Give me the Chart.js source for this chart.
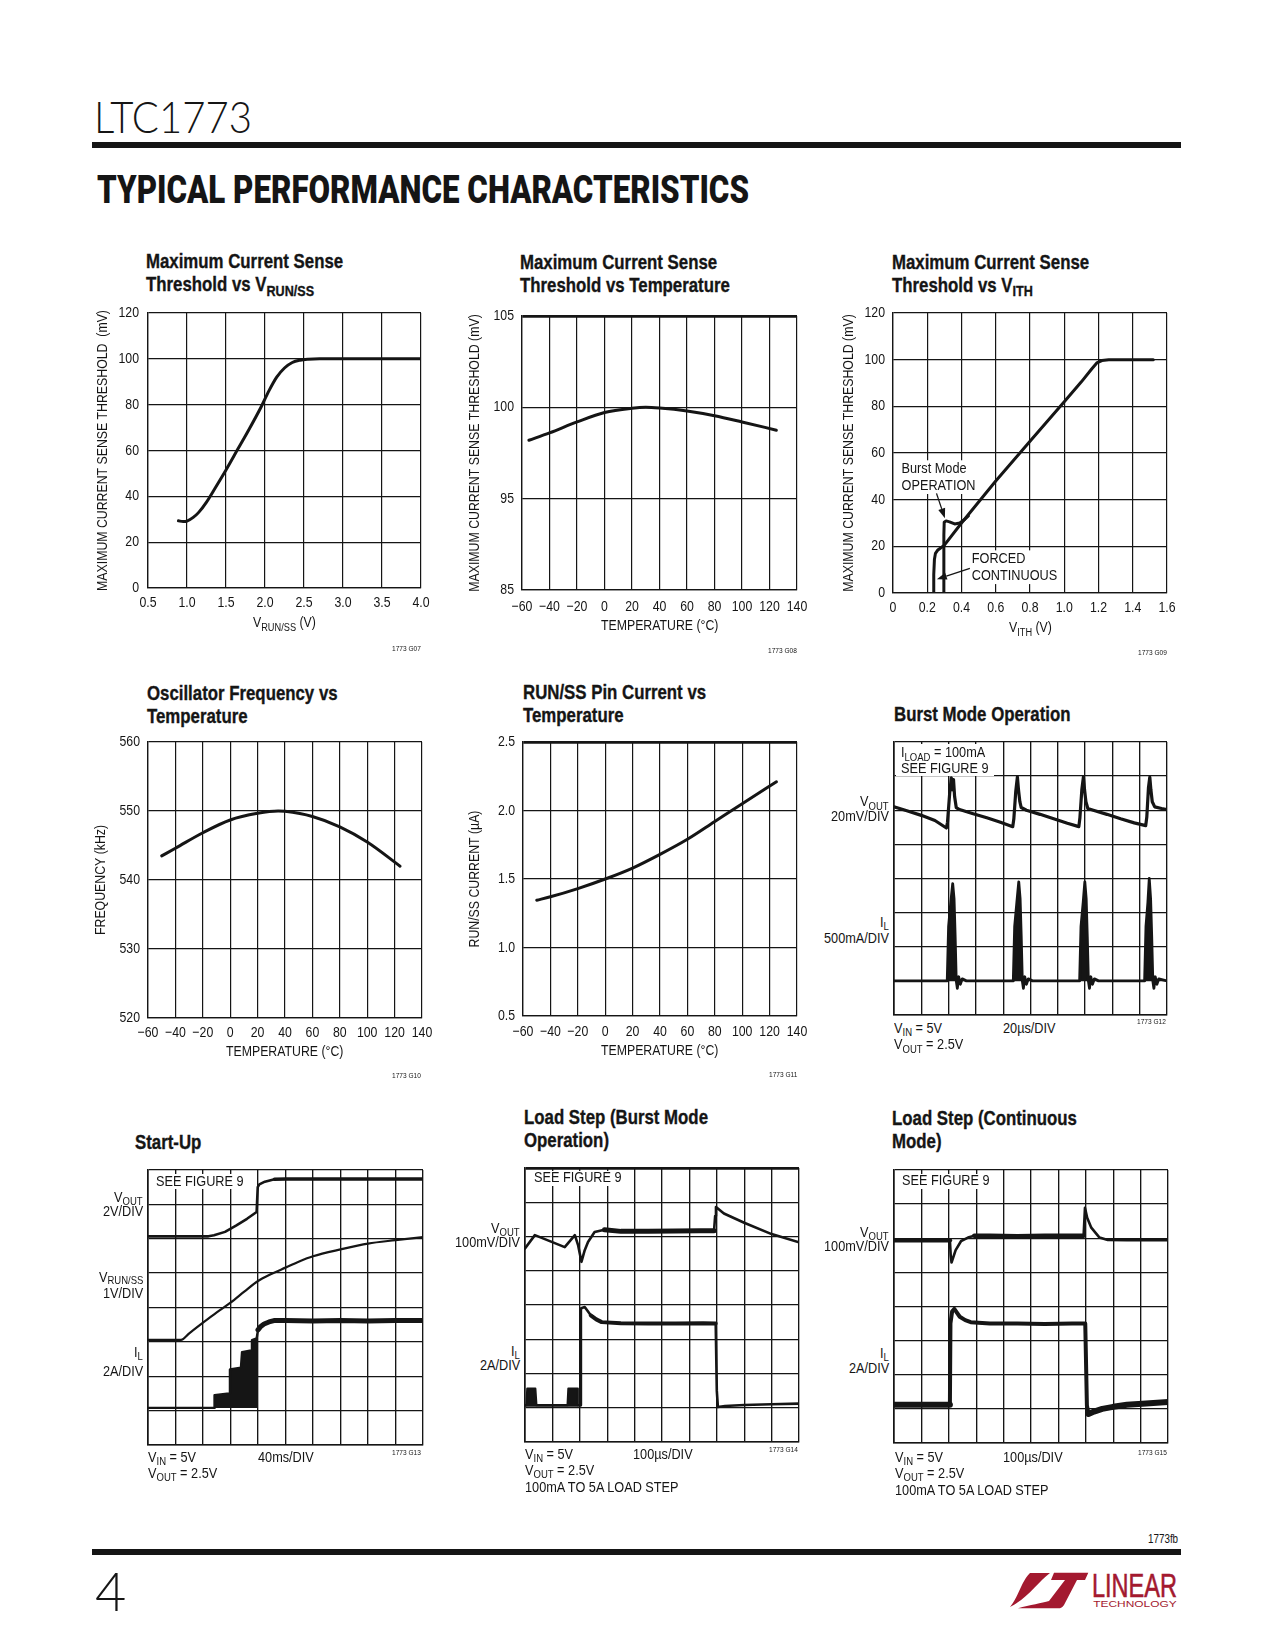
<!DOCTYPE html>
<html>
<head>
<meta charset="utf-8">
<title>LTC1773 Typical Performance Characteristics</title>
<script src="https://cdn.jsdelivr.net/npm/chart.js@4.4.1/dist/chart.umd.min.js"></script>
<style>
html,body{margin:0;padding:0;background:#fff;}
body{position:relative;width:1275px;height:1650px;overflow:hidden;color:#151515;}
.t{position:absolute;left:0;top:0;white-space:nowrap;line-height:1;}
.t sub{font-size:0.75em;vertical-align:baseline;position:relative;top:0.3em;}
.t sub.hi{top:0.18em;}
.ttl{-webkit-text-stroke:0.35px #151515;}
canvas{position:absolute;}
.blk{position:absolute;}
</style>
</head>
<body>
<script>
// ================= DATA =================
// Chart 1: Maximum current sense threshold vs V_RUN/SS
const c1X = [0.89, 0.95, 1.0, 1.08, 1.15, 1.25, 1.35, 1.5, 1.65, 1.8, 1.95, 2.05, 2.15, 2.25, 2.35, 2.45, 2.55, 2.7, 3.0, 3.5, 4.0];
const c1Y = [29.3, 29.0, 29.2, 30.8, 33.0, 37.5, 43.0, 51.5, 60.5, 69.5, 79.0, 86.0, 92.0, 96.0, 98.4, 99.4, 99.8, 100, 100, 100, 100];
const c1XTicks = [0.5, 1.0, 1.5, 2.0, 2.5, 3.0, 3.5, 4.0];
const c1XLabels = ['0.5', '1.0', '1.5', '2.0', '2.5', '3.0', '3.5', '4.0'];
const c1YTicks = [0, 20, 40, 60, 80, 100, 120];
const c1YLabels = ['0', '20', '40', '60', '80', '100', '120'];

// Chart 2: Maximum current sense threshold vs temperature (axis broken 85..95)
const c2X = [-55, -40, -20, 0, 20, 30, 40, 60, 80, 100, 125];
const c2Y = [98.2, 98.6, 99.2, 99.72, 99.95, 100, 99.96, 99.8, 99.54, 99.2, 98.75];
const tempTicks = [-60, -40, -20, 0, 20, 40, 60, 80, 100, 120, 140];
const tempLabels = ['\u221260', '\u221240', '\u221220', '0', '20', '40', '60', '80', '100', '120', '140'];
const c2YTicks = [90, 95, 100, 105];
const c2YLabels = ['85', '95', '100', '105'];

// Chart 3: Maximum current sense threshold vs V_ITH
const c3ForcedX = [0.234, 0.238, 0.242, 0.248, 0.26, 0.28, 0.3, 0.4, 0.6, 0.8, 1.0, 1.1, 1.16, 1.19, 1.22, 1.26, 1.4, 1.52];
const c3ForcedY = [0, 8, 14.5, 17, 18.3, 19.4, 20.5, 30, 48, 65, 82, 90.5, 96, 98.6, 99.6, 100, 100, 100];
const c3BurstX = [0.297, 0.297, 0.299, 0.31, 0.33, 0.36, 0.39, 0.42, 0.44];
const c3BurstY = [0, 25, 30.3, 30.9, 30.5, 29.6, 30.0, 31.6, 33.0];
const c3XTicks = [0, 0.2, 0.4, 0.6, 0.8, 1.0, 1.2, 1.4, 1.6];
const c3XLabels = ['0', '0.2', '0.4', '0.6', '0.8', '1.0', '1.2', '1.4', '1.6'];
const c3YTicks = [0, 20, 40, 60, 80, 100, 120];
const c3YLabels = ['0', '20', '40', '60', '80', '100', '120'];

// Chart 4: Oscillator frequency vs temperature
const c4X = [-50, -40, -20, 0, 20, 35, 40, 60, 80, 100, 124];
const c4Y = [543.5, 544.6, 546.85, 548.7, 549.66, 550, 549.95, 549.2, 547.7, 545.5, 542.0];
const c4YTicks = [520, 530, 540, 550, 560];
const c4YLabels = ['520', '530', '540', '550', '560'];

// Chart 5: RUN/SS pin current vs temperature
const c5X = [-50, -40, -20, 0, 20, 40, 60, 80, 100, 125];
const c5Y = [1.345, 1.37, 1.43, 1.5, 1.58, 1.68, 1.79, 1.92, 2.05, 2.21];
const c5YTicks = [0.5, 1.0, 1.5, 2.0, 2.5];
const c5YLabels = ['0.5', '1.0', '1.5', '2.0', '2.5'];

// Scope grids (divisions)
const divX = [0, 1, 2, 3, 4, 5, 6, 7, 8, 9, 10];
const divY = [0, 1, 2, 3, 4, 5, 6, 7, 8];

// Chart 6: Burst Mode operation (div units)
const c6VoutX = [0, 0.5, 1.0, 1.5, 1.92, 1.96, 2.04, 2.1, 2.14, 2.18, 2.22, 2.28, 2.4, 2.9, 3.4, 3.9, 4.35, 4.39, 4.46, 4.52, 4.56, 4.61, 4.66, 4.85, 5.35, 5.85, 6.35, 6.77, 6.81, 6.88, 6.94, 6.98, 7.03, 7.1, 7.3, 7.8, 8.3, 8.8, 9.22, 9.26, 9.32, 9.37, 9.41, 9.46, 9.55, 9.8, 10];
const c6VoutY = [6.1, 5.98, 5.85, 5.7, 5.48, 5.65, 6.5, 6.95, 6.6, 6.9, 6.4, 6.08, 6.02, 5.9, 5.78, 5.65, 5.52, 5.75, 6.55, 6.98, 6.6, 6.25, 6.08, 6.0, 5.88, 5.75, 5.62, 5.52, 5.78, 6.6, 6.98, 6.6, 6.25, 6.05, 6.0, 5.88, 5.75, 5.63, 5.55, 5.8, 6.65, 6.97, 6.6, 6.25, 6.1, 6.05, 6.02];
const c6IlX = [0, 1.95, 2.0, 2.08, 2.15, 2.2, 2.24, 2.28, 2.32, 2.37, 2.43, 2.5, 2.65, 4.37, 4.42, 4.5, 4.57, 4.62, 4.66, 4.7, 4.74, 4.79, 4.85, 4.92, 5.07, 6.8, 6.85, 6.93, 6.99, 7.04, 7.08, 7.12, 7.16, 7.21, 7.27, 7.34, 7.49, 9.18, 9.23, 9.3, 9.35, 9.4, 9.44, 9.48, 9.52, 9.57, 9.63, 9.7, 10];
const c6IlY = [1.0, 1.0, 2.6, 3.3, 3.85, 3.4, 2.3, 1.0, 0.78, 1.12, 0.9, 1.06, 1.0, 1.0, 2.6, 3.3, 3.9, 3.4, 2.3, 1.0, 0.78, 1.12, 0.9, 1.06, 1.0, 1.0, 2.6, 3.3, 3.9, 3.4, 2.3, 1.0, 0.78, 1.12, 0.9, 1.06, 1.0, 1.0, 2.6, 3.3, 4.0, 3.4, 2.3, 1.0, 0.78, 1.12, 0.9, 1.06, 1.0];

// Chart 7: Start-up (div units)
const c7VoutX = [0, 2.2, 2.4, 2.8, 3.2, 3.6, 3.95, 3.99, 4.05, 4.25, 4.6, 5.0, 10];
const c7VoutY = [6.07, 6.07, 6.1, 6.2, 6.38, 6.58, 6.78, 7.5, 7.58, 7.66, 7.73, 7.74, 7.74];
const c7RunX = [0, 1.2, 1.5, 2.0, 2.5, 3.0, 3.5, 4.0, 4.5, 5.0, 5.5, 6.0, 7.0, 8.0, 9.0, 10];
const c7RunY = [3.06, 3.06, 3.25, 3.56, 3.86, 4.14, 4.46, 4.77, 4.98, 5.16, 5.34, 5.49, 5.69, 5.86, 5.96, 6.05];
const c7IlBandX = [0, 2.4, 2.42, 2.95, 2.98, 3.38, 3.42, 3.75, 3.78, 3.95, 4.0];
const c7IlBandY = [1.08, 1.08, 1.45, 1.5, 2.2, 2.25, 2.7, 2.75, 3.05, 3.1, 3.35];
const c7IlX = [4.0, 4.1, 4.22, 4.4, 4.58, 5, 6, 7, 8, 9, 10];
const c7IlY = [3.35, 3.45, 3.52, 3.58, 3.62, 3.62, 3.61, 3.62, 3.61, 3.62, 3.62];

// Chart 8: Load step, Burst Mode operation (div units)
const c8VoutX = [0, 0.36, 1.45, 1.82, 1.94, 2.06, 2.18, 2.3, 2.54, 2.9, 3.5, 4.5, 5.5, 6.4, 6.9, 6.94, 6.97, 7.26, 8.0, 9.0, 10];
const c8VoutY = [5.65, 6.04, 5.69, 6.04, 5.74, 5.26, 5.6, 5.84, 6.13, 6.2, 6.15, 6.15, 6.16, 6.17, 6.17, 6.6, 6.86, 6.67, 6.4, 6.07, 5.83];
const c8IlX = [0, 2.03, 2.04, 2.1, 2.18, 2.4, 2.6, 2.8, 3.5, 4.5, 5.5, 6.5, 6.96, 7.0, 7.04, 7.3, 8, 9, 10];
const c8IlY = [1.07, 1.07, 3.9, 3.92, 3.94, 3.7, 3.58, 3.5, 3.47, 3.46, 3.46, 3.47, 3.46, 1.5, 1.02, 1.05, 1.08, 1.1, 1.12];
const c8BurstX = [0.05, 0.08, 0.38, 0.42, 1.55, 1.58, 1.9, 1.93];
const c8BurstY = [1.07, 1.56, 1.56, 1.07, 1.07, 1.56, 1.56, 1.07];

// Chart 9: Load step, continuous mode (div units)
const c9VoutX = [0, 2.04, 2.07, 2.1, 2.25, 2.45, 2.7, 2.93, 3.5, 4.5, 5.5, 6.5, 6.92, 6.97, 7.05, 7.2, 7.5, 7.8, 8.5, 10];
const c9VoutY = [5.94, 5.94, 5.5, 5.29, 5.65, 5.92, 6.02, 6.07, 6.07, 6.06, 6.07, 6.07, 6.07, 6.89, 6.6, 6.31, 6.02, 5.95, 5.94, 5.94];
const c9IlX = [0, 2.04, 2.06, 2.12, 2.2, 2.4, 2.6, 2.8, 3.5, 4.5, 5.5, 6.5, 6.98, 7.04, 7.1, 7.3, 7.6, 8.0, 8.5, 9.2, 10];
const c9IlY = [1.12, 1.12, 3.5, 3.85, 3.93, 3.7, 3.6, 3.54, 3.5, 3.5, 3.49, 3.5, 3.5, 1.1, 0.85, 0.92, 1.0, 1.06, 1.12, 1.16, 1.2];

// Chart 3 annotations (data coordinates)
const c3Notes = [
  {lines: ['Burst Mode', 'OPERATION'], x: 0.05, y: 51.3},
  {lines: ['FORCED', 'CONTINUOUS'], x: 0.46, y: 12.7}
];
const c3Arrows = [
  {x1: 0.254, y1: 42.7, x2: 0.303, y2: 32.0},
  {x1: 0.449, y1: 10.6, x2: 0.256, y2: 5.9}
];

// ================= STYLE / HELPERS =================
const INK = '#151515';
const LOGO = '#A3192F';
const SANS = '"Liberation Sans",Arial,Helvetica,sans-serif';
const K = 0.82; // horizontal condensing (Helvetica Condensed look)
const TICK = 15, AXT = 15, LAB = 15.5;

// condensed text rendering on canvases
const _fillText = CanvasRenderingContext2D.prototype.fillText;
CanvasRenderingContext2D.prototype.fillText = function (text, x, y, maxWidth) {
  this.save();
  this.translate(x, y);
  this.scale(K, 1);
  if (maxWidth === undefined) _fillText.call(this, text, 0, 0);
  else _fillText.call(this, text, 0, 0, maxWidth / K);
  this.restore();
};

Chart.defaults.font.family = SANS;
Chart.defaults.font.size = TICK;
Chart.defaults.color = INK;

const pts = (xs, ys) => xs.map((x, i) => ({x, y: ys[i]}));
const seg = (ranges, thick, thin) => ({
  borderWidth: thin,
  segment: {borderWidth: ctx => ranges.some(([a, b]) => ctx.p0.parsed.x >= a && ctx.p0.parsed.x < b) ? thick : thin}
});

function axis(min, max, vals, labels, o = {}) {
  const gw = o.gridW ?? 1.2;
  return {
    type: 'linear', min, max,
    afterBuildTicks: s => { s.ticks = vals.map(v => ({value: v})); },
    ticks: {display: !!labels, callback: (v, i) => labels ? labels[i] : '', padding: o.pad ?? 6,
            autoSkip: false, maxRotation: 0, font: {size: TICK, family: SANS}, color: INK},
    grid: {color: INK, drawTicks: false, tickLength: 0,
           lineWidth: o.thickTop ? (c => c.index === vals.length - 1 ? 2.7 : gw) : gw},
    border: {color: INK, width: o.borderW ?? 1.3}
  };
}

function makeChart(box, xs, ys, datasets, plugins = []) {
  const yW = box.yW ?? 70, padT = box.padT ?? 14, padR = box.padR ?? 24, xH = box.xH ?? 30;
  const W = box.R - box.L + yW + padR, H = box.B - box.T + padT + xH;
  const cv = document.createElement('canvas');
  cv.width = W; cv.height = H;
  Object.assign(cv.style, {left: (box.L - yW) + 'px', top: (box.T - padT) + 'px', width: W + 'px', height: H + 'px'});
  document.body.appendChild(cv);
  xs.afterFit = s => { s.height = xH; s.paddingLeft = 0; s.paddingRight = 0; };
  ys.afterFit = s => { s.width = yW; s.paddingTop = 0; s.paddingBottom = 0; };
  if (box.yTitle) {
    ys.title = {display: true, text: box.yTitle, color: INK, font: {size: AXT, family: SANS},
                padding: {top: box.yTitleX - (box.L - yW) - 0.6 * AXT, bottom: 0}};
  }
  return new Chart(cv, {
    type: 'line', data: {datasets},
    options: {responsive: false, animation: false, events: [],
      layout: {autoPadding: false, padding: {top: padT, right: padR, bottom: 0, left: 0}},
      plugins: {legend: {display: false}, tooltip: {enabled: false}},
      scales: {x: xs, y: ys}},
    plugins
  });
}

const curve = (xs, ys, extra = {}) => Object.assign({data: pts(xs, ys), borderColor: INK, borderWidth: 3, pointRadius: 0,
  fill: false, cubicInterpolationMode: 'monotone', borderCapStyle: 'round', borderJoinStyle: 'round'}, extra);
const trace = (xs, ys, extra = {}) => Object.assign({data: pts(xs, ys), borderColor: INK, borderWidth: 2.6, pointRadius: 0,
  fill: false, tension: 0, borderJoinStyle: 'round', borderCapStyle: 'round'}, extra);

const BASE = {sans: 0.8465, lato: 0.887, roboto: 0.842};
const FAM = {sans: SANS, lato: '"Lato","Open Sans",sans-serif', roboto: '"Roboto","Inter",sans-serif'};
function txt(html, x, base, size, o = {}) {
  const d = document.createElement('div');
  d.className = 't' + (o.cls ? ' ' + o.cls : '');
  d.innerHTML = html;
  const fam = o.fam || 'sans';
  d.style.fontFamily = FAM[fam];
  d.style.fontSize = size + 'px';
  if (o.weight) d.style.fontWeight = o.weight;
  d.style.color = o.color || INK;
  d.style.top = (base - BASE[fam] * size) + 'px';
  document.body.appendChild(d);
  const w = d.getBoundingClientRect().width;
  const sx = o.fitW ? o.fitW / w : (fam === 'sans' ? K : 1);
  const align = o.align || 'left';
  const left = align === 'left' ? x : align === 'right' ? x - w * sx : x - w * sx / 2;
  d.style.left = left + 'px';
  if (sx !== 1) { d.style.transformOrigin = '0 0'; d.style.transform = 'scaleX(' + sx + ')'; }
  return d;
}
function blk(x, y, w, h, color) {
  const d = document.createElement('div');
  d.className = 'blk';
  Object.assign(d.style, {left: x + 'px', top: y + 'px', width: w + 'px', height: h + 'px', background: color});
  document.body.appendChild(d);
}
const title = (lines, x, b) => lines.forEach((l, i) => txt(l, x, b + 23 * i, 20.5, {weight: 'bold', cls: 'ttl'}));
const small = (s, xr, b) => txt(s, xr, b, 8, {align: 'right'});
const lab = (s, x, b, o = {}) => txt(s, x, b, LAB, o);

// Chart 3 annotation plugin
const notesPlugin = {
  id: 'c3notes',
  beforeDatasetsDraw(chart) {
    const {ctx, scales: {x, y}} = chart;
    ctx.save();
    ctx.font = LAB + 'px ' + SANS;
    c3Notes.forEach(n => {
      const px = x.getPixelForValue(n.x), py = y.getPixelForValue(n.y);
      const w = K * Math.max(...n.lines.map(l => ctx.measureText(l).width));
      ctx.fillStyle = '#fff';
      ctx.fillRect(px - 2, py - 13, w + 5, 16.7 * (n.lines.length - 1) + 17);
      ctx.fillStyle = INK;
      ctx.textAlign = 'left';
      ctx.textBaseline = 'alphabetic';
      n.lines.forEach((l, i) => ctx.fillText(l, px, py + i * 16.7));
    });
    ctx.restore();
  },
  afterDatasetsDraw(chart) {
    const {ctx, scales: {x, y}} = chart;
    ctx.save();
    ctx.strokeStyle = INK; ctx.fillStyle = INK; ctx.lineWidth = 1.3;
    c3Arrows.forEach(a => {
      const x1 = x.getPixelForValue(a.x1), y1 = y.getPixelForValue(a.y1);
      const x2 = x.getPixelForValue(a.x2), y2 = y.getPixelForValue(a.y2);
      const ang = Math.atan2(y2 - y1, x2 - x1), L = 10, Wd = 3.6;
      const bx = x2 - L * Math.cos(ang), by = y2 - L * Math.sin(ang);
      ctx.beginPath(); ctx.moveTo(x1, y1); ctx.lineTo(bx, by); ctx.stroke();
      ctx.beginPath();
      ctx.moveTo(x2, y2);
      ctx.lineTo(bx + Wd * Math.sin(ang), by - Wd * Math.cos(ang));
      ctx.lineTo(bx - Wd * Math.sin(ang), by + Wd * Math.cos(ang));
      ctx.closePath(); ctx.fill();
    });
    ctx.restore();
  }
};

// ================= PAGE HEADER / FOOTER =================
txt('LTC1773', 94, 133, 43, {fam: 'lato', weight: 300, fitW: 158});
blk(92, 142, 1089, 5.5, INK);
txt('TYPICAL PERFORMANCE CHARACTERISTICS', 97, 203, 38, {fam: 'roboto', weight: 900, fitW: 652});
blk(92, 1549, 1089, 5.5, INK);
txt('1773fb', 1178, 1543, 12, {align: 'right'});
txt('4', 95, 1612, 54, {fam: 'lato', weight: 300});

// ================= CHART 1 =================
title(['Maximum Current Sense', 'Threshold vs V<sub>RUN/SS</sub>'], 146, 268.5);
makeChart({L: 148, T: 313, R: 421, B: 588, yTitle: 'MAXIMUM CURRENT SENSE THRESHOLD  (mV)', yTitleX: 103},
  axis(0.5, 4.0, c1XTicks, c1XLabels, {pad: 5.5}), axis(0, 120, c1YTicks, c1YLabels, {pad: 9}),
  [curve(c1X, c1Y)]);
txt('V<sub>RUN/SS</sub> (V)', 284.5, 627, AXT, {align: 'center'});
small('1773 G07', 421, 652);

// ================= CHART 2 =================
title(['Maximum Current Sense', 'Threshold vs Temperature'], 520, 269);
makeChart({L: 522, T: 316, R: 797, B: 590, yTitle: 'MAXIMUM CURRENT SENSE THRESHOLD (mV)', yTitleX: 475},
  axis(-60, 140, tempTicks, tempLabels, {pad: 7.5}), axis(90, 105, c2YTicks, c2YLabels, {pad: 8, thickTop: true}),
  [curve(c2X, c2Y)]);
txt('TEMPERATURE (°C)', 659.5, 630, AXT, {align: 'center'});
small('1773 G08', 797, 654);

// ================= CHART 3 =================
title(['Maximum Current Sense', 'Threshold vs V<sub>ITH</sub>'], 892, 269);
makeChart({L: 893, T: 313, R: 1167, B: 593, yTitle: 'MAXIMUM CURRENT SENSE THRESHOLD (mV)', yTitleX: 849},
  axis(0, 1.6, c3XTicks, c3XLabels, {pad: 5.5}), axis(0, 120, c3YTicks, c3YLabels, {pad: 8}),
  [curve(c3ForcedX, c3ForcedY, {cubicInterpolationMode: 'default', tension: 0}),
   curve(c3BurstX, c3BurstY, {cubicInterpolationMode: 'default', tension: 0})],
  [notesPlugin]);
txt('V<sub>ITH</sub> (V)', 1030, 632, AXT, {align: 'center'});
small('1773 G09', 1167, 656);

// ================= CHART 4 =================
title(['Oscillator Frequency vs', 'Temperature'], 147, 700);
makeChart({L: 148, T: 742, R: 422, B: 1018, yTitle: 'FREQUENCY (kHz)', yTitleX: 101},
  axis(-60, 140, tempTicks, tempLabels, {pad: 5.5}), axis(520, 560, c4YTicks, c4YLabels, {pad: 8}),
  [curve(c4X, c4Y)]);
txt('TEMPERATURE (°C)', 285, 1056, AXT, {align: 'center'});
small('1773 G10', 421, 1079);

// ================= CHART 5 =================
title(['RUN/SS Pin Current vs', 'Temperature'], 523, 699);
makeChart({L: 523, T: 742, R: 797, B: 1016, yTitle: 'RUN/SS CURRENT (µA)', yTitleX: 475},
  axis(-60, 140, tempTicks, tempLabels, {pad: 6.5}), axis(0.5, 2.5, c5YTicks, c5YLabels, {pad: 8, thickTop: true}),
  [curve(c5X, c5Y)]);
txt('TEMPERATURE (°C)', 660, 1055, AXT, {align: 'center'});
small('1773 G11', 797, 1078);

// ================= SCOPE CHARTS =================
const scopeBox = (L, T, R, B) => ({L, T, R, B, yW: 4, padT: 4, padR: 4, xH: 4});
const sx = (o = {}) => axis(0, 10, divX, null, Object.assign({gridW: 1.35, borderW: 1.6}, o));
const sy = (o = {}) => axis(0, 8, divY, null, Object.assign({gridW: 1.35, borderW: 1.6}, o));

// Chart 6
title(['Burst Mode Operation'], 894, 721);
makeChart(scopeBox(894, 742, 1167, 1015), sx(), sy(),
  [trace(c6VoutX, c6VoutY, {borderWidth: 3.2}),
   trace(c6IlX, c6IlY, {borderWidth: 2.8, fill: {value: 1.0}, backgroundColor: INK})]);
blk(895.5, 743.5, 98, 32, '#fff');
lab('I<sub>LOAD</sub> = 100mA', 901, 757.5);
lab('SEE FIGURE 9', 901, 773);
[['V<sub>OUT</sub>', 806.5], ['20mV/DIV', 821.5], ['I<sub>L</sub>', 927], ['500mA/DIV', 943]].forEach(([s, b]) => lab(s, 889, b, {align: 'right'}));
lab('V<sub>IN</sub> = 5V', 894, 1033);
lab('V<sub>OUT</sub> = 2.5V', 894, 1049.5);
lab('20µs/DIV', 1003, 1033);
small('1773 G12', 1166, 1025);

// Chart 7
title(['Start-Up'], 135, 1149);
makeChart(scopeBox(148, 1170, 423, 1445), sx(), sy(),
  [trace(c7VoutX, c7VoutY, seg([[4.6, 10.1]], 3.6, 2.6)),
   trace(c7RunX, c7RunY, {borderWidth: 2.2, cubicInterpolationMode: 'monotone'}),
   trace(c7IlBandX, c7IlBandY, {borderWidth: 2.4, fill: {value: 1.08}, backgroundColor: INK}),
   trace(c7IlX, c7IlY, {borderWidth: 5})]);
blk(152, 1174, 80, 15, '#fff');
lab('SEE FIGURE 9', 155.5, 1186);
[['V<sub>OUT</sub>', 1202], ['2V/DIV', 1216.5], ['V<sub class="hi">RUN/SS</sub>', 1282.5], ['1V/DIV', 1298], ['I<sub>L</sub>', 1357], ['2A/DIV', 1376]].forEach(([s, b]) => lab(s, 143, b, {align: 'right'}));
lab('V<sub>IN</sub> = 5V', 147.5, 1462);
lab('V<sub>OUT</sub> = 2.5V', 147.5, 1478);
lab('40ms/DIV', 258, 1462);
small('1773 G13', 421, 1456);

// Chart 8
title(['Load Step (Burst Mode', 'Operation)'], 524, 1124);
makeChart(scopeBox(525, 1168, 799, 1442), sx(), sy({thickTop: true}),
  [trace(c8VoutX, c8VoutY, seg([[2.9, 6.9]], 5, 2.6)),
   trace(c8IlX, c8IlY, seg([[2.4, 6.96]], 4, 2.6)),
   trace(c8BurstX, c8BurstY, {borderWidth: 2, fill: {value: 1.07}, backgroundColor: INK})]);
blk(530, 1171, 80, 15, '#fff');
lab('SEE FIGURE 9', 533.5, 1182.5);
[['V<sub>OUT</sub>', 1233], ['100mV/DIV', 1247.5], ['I<sub>L</sub>', 1356], ['2A/DIV', 1370]].forEach(([s, b]) => lab(s, 520, b, {align: 'right'}));
lab('V<sub>IN</sub> = 5V', 525, 1459);
lab('V<sub>OUT</sub> = 2.5V', 525, 1475);
lab('100mA TO 5A LOAD STEP', 525, 1492);
lab('100µs/DIV', 633, 1459);
small('1773 G14', 798, 1453);

// Chart 9
title(['Load Step (Continuous', 'Mode)'], 892, 1125);
makeChart(scopeBox(894, 1170, 1168, 1443), sx(), sy(),
  [trace(c9VoutX, c9VoutY, seg([[0, 2.04], [2.9, 6.92]], 4.5, 2.6)),
   trace(c9IlX, c9IlY, seg([[0, 2.04], [7.1, 10.1]], 6, 4))]);
blk(898, 1174, 80, 15, '#fff');
lab('SEE FIGURE 9', 901.5, 1185.5);
[['V<sub>OUT</sub>', 1237], ['100mV/DIV', 1251], ['I<sub>L</sub>', 1358], ['2A/DIV', 1373]].forEach(([s, b]) => lab(s, 889, b, {align: 'right'}));
lab('V<sub>IN</sub> = 5V', 894.5, 1462);
lab('V<sub>OUT</sub> = 2.5V', 894.5, 1478);
lab('100mA TO 5A LOAD STEP', 894.5, 1495);
lab('100µs/DIV', 1003, 1462);
small('1773 G15', 1167, 1456);

// ================= LOGO =================
const svgNS = 'http://www.w3.org/2000/svg';
const logo = document.createElementNS(svgNS, 'svg');
logo.setAttribute('width', '180'); logo.setAttribute('height', '46'); logo.setAttribute('viewBox', '0 0 180 46');
Object.assign(logo.style, {position: 'absolute', left: '1004px', top: '1568px'});
logo.innerHTML =
  '<path fill="' + LOGO + '" d="M6 39 C14 30 18 12 26 5 L46 5 C34 14 24 30 6 39 Z"/>' +
  '<path fill="' + LOGO + '" d="M50 4.7 L84.3 4.7 L81 12 L73 12 L60 37 C58.5 39.5 57 40.3 54 40.3 L14 40.3 C26 37 38 35 45 33 L61 12 L47 12 Z"/>' +
  '<text x="88" y="28.7" fill="' + LOGO + '" font-family="Liberation Sans, Arial, sans-serif" font-size="34" textLength="85" lengthAdjust="spacingAndGlyphs" stroke="' + LOGO + '" stroke-width="0.6">LINEAR</text>' +
  '<text x="89.3" y="38.7" fill="' + LOGO + '" font-family="Liberation Sans, Arial, sans-serif" font-size="9.5" textLength="83.4" lengthAdjust="spacingAndGlyphs">TECHNOLOGY</text>';
document.body.appendChild(logo);
</script>
</body>
</html>
